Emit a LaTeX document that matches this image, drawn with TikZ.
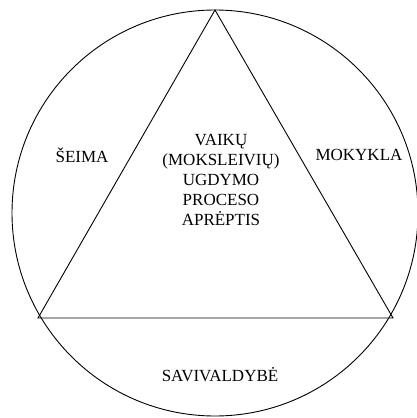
\documentclass[tikz,border=0pt]{standalone}
\usepackage{fontspec}
\setmainfont{Liberation Serif}
\begin{document}
\begin{tikzpicture}[x=1pt,y=-1pt,
  lbl/.style={font=\fontsize{17}{20}\selectfont, align=center, inner sep=0pt},
  ln/.style={line width=0.9pt, black}]
\useasboundingbox (0,0) rectangle (417,418);
\coordinate (c) at (215,213);
\coordinate (t) at (215,10);
\coordinate (l) at (38,318);
\coordinate (r) at (393,318);
\draw[ln] (c) circle[radius=203];
\draw[ln] (t) -- (l) -- (r) -- cycle;
\node[lbl] (center) at (221,180) {VAIKŲ\\(MOKSLEIVIŲ)\\UGDYMO\\PROCESO\\APRĖPTIS};
\node[lbl] (seima) at (82,155) {ŠEIMA};
\node[lbl] (mokykla) at (359,155) {MOKYKLA};
\node[lbl] (sav) at (220,375) {SAVIVALDYBĖ};
\end{tikzpicture}
\end{document}
